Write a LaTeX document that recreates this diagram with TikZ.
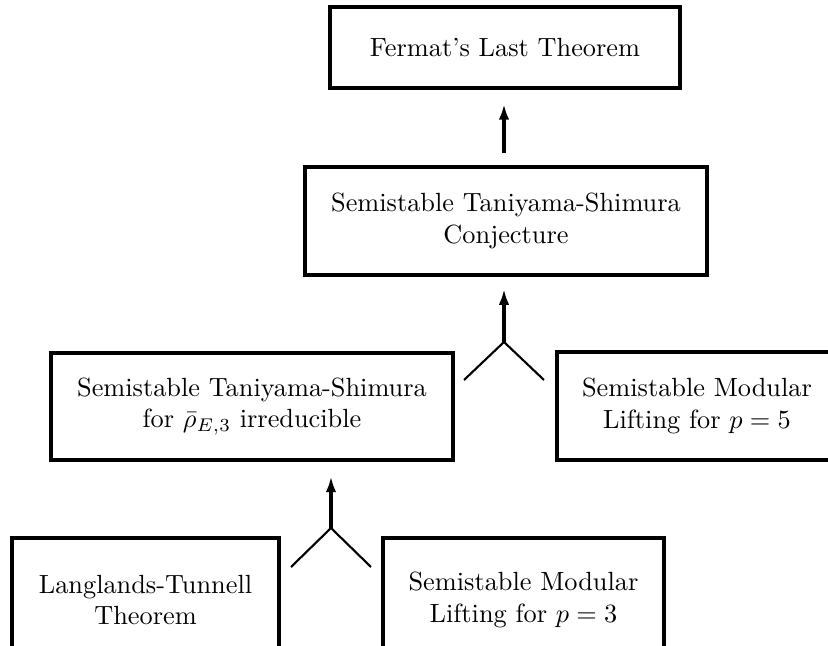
\documentclass[tikz,border=0pt]{standalone}
\usetikzlibrary{arrows.meta}
\begin{document}
\begin{tikzpicture}[x=0.38pt, y=0.38pt,
    thm/.style={draw, line width=1.5pt, align=center, inner sep=0pt, minimum height=41pt},
    implies/.style={line width=1.2pt, -{Latex[length=6pt,width=4pt]}},
    leg/.style={line width=0.8pt}]
    \useasboundingbox (0,0) rectangle (828,645);

    \node[thm, minimum width=133pt, minimum height=30.8pt] (flt) at (505, 597.5) {Fermat's Last Theorem};
    \node[thm, minimum width=152.8pt] (conj) at (506, 424) {Semistable Taniyama-Shimura\\Conjecture};
    \node[thm, minimum width=152.8pt] (irred) at (252, 238.5) {Semistable Taniyama-Shimura\\for $\bar\rho_{E,3}$ irreducible};
    \node[thm, minimum width=106.4pt] (lift5) at (697, 239) {Semistable Modular\\Lifting for $p=5$};
    \node[thm, minimum width=101.5pt, minimum height=47pt] (lt) at (145.5, 45) {Langlands-Tunnell\\Theorem};
    \node[thm, minimum width=106.8pt, minimum height=47pt] (lift3) at (523.5, 45) {Semistable Modular\\Lifting for $p=3$};

    \draw[implies, shorten <=4.6pt, shorten >=5.3pt] (conj.north -| 504,0) -- (504,0 |- flt.south);

    % upper fork
    \coordinate (join1) at (504, 303);
    \coordinate (join1l) at (464, 265);
    \coordinate (join1r) at (544, 265);
    \draw[leg] (join1l) -- (join1) -- (join1r);
    \draw[implies, shorten >=4.6pt] (join1) -- (join1 |- conj.south);

    % lower fork
    \coordinate (join2) at (331, 117);
    \coordinate (join2l) at (291, 78);
    \coordinate (join2r) at (371, 78);
    \draw[leg] (join2l) -- (join2) -- (join2r);
    \draw[implies, shorten >=5.3pt] (join2) -- (join2 |- irred.south);
\end{tikzpicture}
\end{document}
